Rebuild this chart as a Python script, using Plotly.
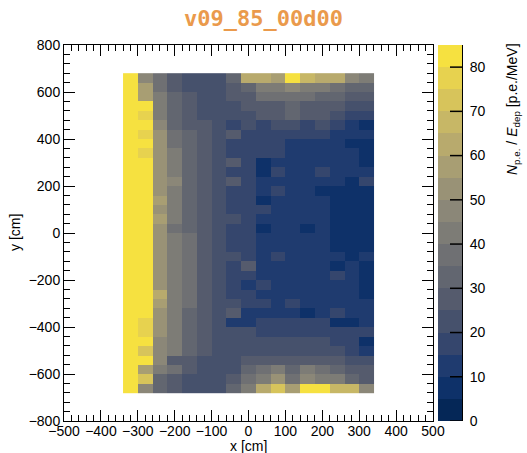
import plotly.graph_objects as go
from plotly.colors import sample_colorscale

# Bin centres (cm)
x_centers = [-320 + 40 * i for i in range(17)]
y_centers = [660 - 40 * j for j in range(34)]  # top row first

# Light yield N_pe / E_dep per bin [p.e./MeV], rows from y=660 down to y=-660
r00 = [82, 48, 35, 27, 23, 23, 23, 33, 62, 62, 58, 82, 67, 63, 63, 48, 40]
r01 = [82, 60, 35, 30, 23, 23, 23, 26, 31, 40, 40, 47, 42, 42, 35, 33, 31]
r02 = [82, 60, 42, 31, 26, 23, 23, 26, 29, 35, 37, 37, 37, 33, 33, 28, 26]
r03 = [82, 82, 42, 31, 26, 23, 23, 23, 26, 26, 29, 31, 29, 29, 26, 20, 20]
r04 = [82, 75, 44, 33, 26, 23, 23, 23, 23, 26, 26, 31, 26, 26, 23, 18, 17]
r05 = [82, 80, 46, 33, 29, 26, 23, 16, 24, 18, 22, 22, 18, 22, 18, 13, 9]
r06 = [82, 77, 51, 37, 31, 28, 23, 25, 17, 17, 17, 17, 18, 16, 12, 12, 10]
r07 = [82, 80, 51, 39, 31, 28, 23, 16, 16, 16, 16, 13, 13, 12, 10, 9, 6]
r08 = [82, 78, 51, 41, 32, 28, 24, 17, 17, 17, 17, 14, 11, 12, 12, 10, 6]
r09 = [82, 82, 51, 42, 33, 28, 24, 26, 17, 9, 14, 14, 14, 12, 12, 10, 5]
r10 = [82, 82, 51, 42, 33, 28, 24, 16, 16, 9, 17, 11, 11, 19, 12, 11, 11]
r11 = [82, 82, 51, 46, 33, 28, 24, 26, 16, 11, 11, 11, 13, 11, 11, 8, 18]
r12 = [82, 82, 51, 42, 33, 28, 24, 16, 16, 11, 19, 11, 11, 8, 5, 5, 5]
r13 = [82, 82, 56, 42, 33, 28, 24, 16, 16, 9, 11, 11, 11, 11, 5, 5, 5]
r14 = [82, 82, 51, 42, 33, 28, 24, 16, 16, 17, 11, 11, 11, 14, 5, 5, 5]
r15 = [82, 82, 56, 44, 33, 28, 24, 23, 16, 11, 11, 11, 11, 11, 5, 5, 5]
r16 = [82, 82, 51, 36, 33, 28, 24, 16, 16, 9, 11, 11, 9, 11, 5, 5, 5]
r17 = [82, 82, 51, 42, 37, 28, 24, 17, 17, 11, 11, 11, 11, 11, 8, 5, 5]
r18 = [82, 82, 51, 40, 37, 28, 24, 17, 17, 11, 11, 11, 11, 11, 5, 5, 5]
r19 = [82, 82, 51, 40, 35, 28, 24, 23, 17, 11, 19, 11, 11, 11, 11, 5, 14]
r20 = [82, 82, 51, 40, 35, 28, 24, 16, 27, 11, 11, 11, 11, 11, 5, 10, 5]
r21 = [82, 82, 51, 42, 35, 28, 24, 16, 16, 11, 11, 11, 11, 11, 19, 10, 5]
r22 = [82, 82, 51, 40, 35, 28, 24, 17, 14, 17, 11, 11, 11, 11, 11, 10, 5]
r23 = [82, 82, 63, 42, 37, 28, 24, 17, 17, 11, 11, 11, 11, 11, 11, 14, 5]
r24 = [82, 82, 60, 42, 35, 28, 24, 23, 16, 16, 11, 16, 11, 11, 14, 14, 14]
r25 = [82, 82, 51, 42, 33, 28, 24, 26, 14, 14, 14, 14, 8, 14, 17, 10, 10]
r26 = [82, 75, 51, 40, 33, 29, 24, 11, 14, 16, 16, 16, 16, 16, 8, 8, 10]
r27 = [82, 75, 51, 40, 33, 29, 24, 24, 21, 16, 16, 16, 16, 16, 16, 16, 16]
r28 = [82, 82, 49, 40, 33, 29, 24, 24, 24, 23, 23, 23, 23, 23, 16, 16, 8]
r29 = [82, 73, 48, 40, 33, 28, 24, 24, 23, 23, 23, 23, 23, 23, 22, 18, 14]
r30 = [82, 82, 48, 28, 26, 24, 24, 24, 29, 29, 29, 29, 29, 29, 26, 23, 23]
r31 = [82, 60, 42, 35, 26, 23, 23, 23, 31, 35, 40, 33, 40, 35, 31, 26, 26]
r32 = [82, 70, 33, 28, 24, 23, 23, 26, 37, 44, 54, 37, 48, 44, 40, 31, 28]
r33 = [82, 48, 33, 26, 22, 22, 22, 31, 44, 64, 72, 60, 82, 82, 65, 65, 46]

z_rows = [r00, r01, r02, r03, r04, r05, r06, r07, r08, r09, r10, r11,
          r12, r13, r14, r15, r16, r17, r18, r19, r20, r21, r22, r23,
          r24, r25, r26, r27, r28, r29, r30, r31, r32, r33]

colorbar_ticks = [0, 10, 20, 30, 40, 50, 60, 70, 80]
z_min, z_max, n_levels = 0, 85, 17
band_step = (z_max - z_min) / n_levels
band_mids = [z_min + band_step * (i + 0.5) for i in range(n_levels)]

# Stepped cividis palette with one band per 5 p.e./MeV
band_cols = sample_colorscale("Cividis", [(i + 0.5) / n_levels for i in range(n_levels)])
stepped = []
for i, c in enumerate(band_cols):
    stepped.append([i / n_levels, c])
    stepped.append([(i + 1) / n_levels, c])

font_main = "Liberation Sans, Arial, Helvetica, sans-serif"

# layout geometry in pixels
fig_w, fig_h = 527, 453
m_l, m_r, m_t, m_b = 64, 65, 45, 32
paper_w = fig_w - m_l - m_r          # main frame + colour bar
frame_w = 369                        # main frame width
cb_gap = 5
plot_h = fig_h - m_t - m_b

fig = go.Figure()

fig.add_trace(go.Heatmap(
    x=x_centers, y=y_centers, z=z_rows,
    zmin=z_min, zmax=z_max, colorscale=stepped,
    showscale=False, xaxis="x", yaxis="y",
))

# colour bar drawn as a one-column heatmap on its own axes
fig.add_trace(go.Heatmap(
    x=[0], y=band_mids, z=[[v] for v in band_mids],
    zmin=z_min, zmax=z_max, colorscale=stepped,
    showscale=False, xaxis="x2", yaxis="y2", hoverinfo="skip",
))

# tick marks on the colour bar, from its right edge inwards
for v in colorbar_ticks:
    fig.add_shape(
        type="line", xref="x2", yref="y2", layer="above",
        x0=0.0, x1=0.5, y0=v, y1=v,
        line=dict(color="black", width=1.5),
    )

tick_font = dict(family=font_main, size=14, color="black")

axis_common = dict(
    showgrid=False, zeroline=False, showline=True,
    linecolor="black", linewidth=1, mirror="allticks",
    ticks="inside", tickcolor="black", tickwidth=1,
    automargin=False, tickfont=tick_font, layer="above traces",
)

fig.update_layout(
    xaxis=dict(
        domain=[0, frame_w / paper_w], anchor="y",
        range=[-500, 500], tickvals=list(range(-500, 501, 100)),
        ticklen=11, ticklabelstandoff=-3,
        minor=dict(dtick=20, ticklen=6, ticks="inside", tickcolor="black"),
        **axis_common,
    ),
    yaxis=dict(
        domain=[0, 1], anchor="x",
        range=[-800, 800], tickvals=list(range(-800, 801, 200)),
        ticklen=11,
        minor=dict(dtick=40, ticklen=6, ticks="inside", tickcolor="black"),
        **axis_common,
    ),
    xaxis2=dict(
        domain=[(frame_w + cb_gap) / paper_w, 1], anchor="y2",
        range=[-0.5, 0.5], visible=False, fixedrange=True,
    ),
    yaxis2=dict(
        domain=[0, 1], anchor="x2", side="right",
        range=[z_min, z_max], tickvals=colorbar_ticks,
        showgrid=False, zeroline=False, showline=True,
        linecolor="black", linewidth=1, layer="above traces",
        ticks="", automargin=False, tickfont=tick_font, fixedrange=True,
        ticklabelstandoff=4,
    ),
)

# axis titles
fig.add_annotation(
    text="x [cm]", xref="paper", yref="paper",
    x=(248 - m_l) / paper_w, y=-(446 - (m_t + plot_h)) / plot_h,
    xanchor="center", yanchor="middle", showarrow=False, font=tick_font,
)
fig.add_annotation(
    text="y [cm]", xref="paper", yref="paper",
    x=(15 - m_l) / paper_w, y=0.5,
    xanchor="center", yanchor="middle", textangle=-90, showarrow=False,
    font=tick_font,
)

# colour-bar title, reading upwards
fig.add_annotation(
    text="<i>N</i><sub>p.e.</sub> / <i>E</i><sub>dep</sub> [p.e./MeV]",
    xref="paper", yref="paper",
    x=(513 - m_l) / paper_w, y=1 - (109 - m_t) / plot_h,
    xanchor="center", yanchor="middle",
    textangle=-90, showarrow=False, font=tick_font,
)

fig.update_layout(
    width=fig_w,
    height=fig_h,
    margin=dict(l=m_l, r=m_r, t=m_t, b=m_b),
    paper_bgcolor="white",
    plot_bgcolor="white",
    showlegend=False,
    title=dict(
        text="<b>v09_85_00d00</b>",
        font=dict(family="DejaVu Sans Mono, monospace", size=22, color="#ea9a4c"),
        x=0.5, xref="container", xanchor="center",
        y=1 - 18 / fig_h, yref="container", yanchor="middle",
    ),
)

fig.write_html("out.html")
